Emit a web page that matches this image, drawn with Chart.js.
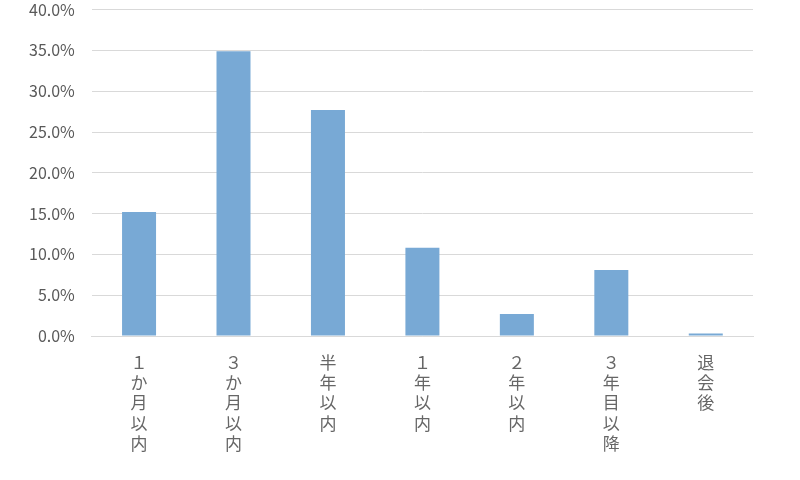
<!DOCTYPE html>
<html><head><meta charset="utf-8">
<script src="https://cdn.jsdelivr.net/npm/chart.js@4/dist/chart.umd.min.js"></script>
<style>html,body{margin:0;padding:0;background:#fff;overflow:hidden}#wrap{width:800px;height:497px;margin-top:-17px}</style>
</head><body><div id="wrap"><canvas id="c"></canvas></div>
<script>
const categories = ["１か月以内", "３か月以内", "半年以内", "１年以内", "２年以内", "３年目以降", "退会後"];
const values = [15.2, 34.9, 27.7, 10.8, 2.7, 8.1, 0.3];
const yTicks = [0, 5, 10, 15, 20, 25, 30, 35, 40];

const labels = categories.map(s => Array.from(s));
new Chart(document.getElementById('c'), {
  type: 'bar',
  data: { labels: labels, datasets: [{ data: values, backgroundColor: '#78A9D5', barPercentage: 0.36, categoryPercentage: 1 }] },
  options: {
    responsive: true, maintainAspectRatio: false, animation: false,
    layout: { padding: { top: 0, right: 47, left: 12, bottom: 10 } },
    plugins: { legend: { display: false }, tooltip: { enabled: false } },
    scales: {
      x: {
        grid: { display: false, drawTicks: false },
        border: { color: '#d9d9d9', width: 1 },
        ticks: { color: '#666666', maxRotation: 0, minRotation: 0, padding: 16, font: { family: 'Noto Sans CJK JP', size: 17, lineHeight: 1.2 } }
      },
      y: {
        min: 0, max: 40,
        afterBuildTicks: ax => { ax.ticks = yTicks.map(v => ({ value: v })); },
        grid: { color: '#d9d9d9', lineWidth: 1, drawTicks: false },
        border: { display: false },
        ticks: { color: '#595959', padding: 17, font: { family: 'Noto Sans CJK JP', size: 16 }, callback: v => v.toFixed(1) + '%' }
      }
    }
  }
});
</script></body></html>
